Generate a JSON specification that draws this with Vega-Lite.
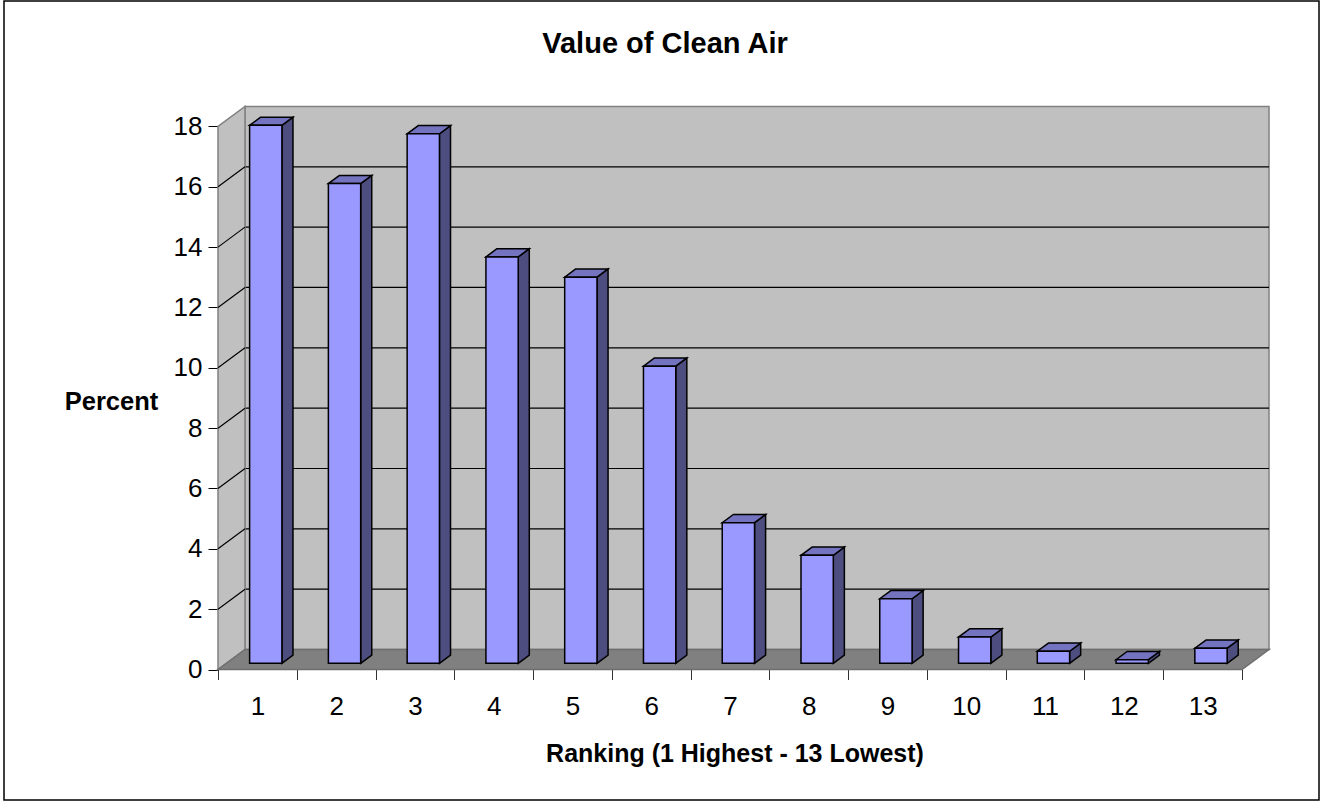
{
  "$schema": "https://vega.github.io/schema/vega-lite/v6.json",
  "width": 1315,
  "height": 799,
  "autosize": {"type": "none"},
  "padding": {"left": 4, "top": 1, "right": 2, "bottom": 1},
  "background": "white",
  "config": {
    "view": {"stroke": "black", "strokeWidth": 1.5, "fill": "white"},
    "font": "Liberation Sans"
  },
  "title": {
    "text": "Value of Clean Air",
    "font": "Liberation Sans",
    "fontSize": 29,
    "fontWeight": "bold",
    "color": "black",
    "anchor": "middle",
    "frame": "group",
    "baseline": "alphabetic",
    "offset": -81,
    "dx": 3.5
  },
  "datasets": {
    "bars": [
      {"rank": 1, "percent": 17.83},
      {"rank": 2, "percent": 15.9},
      {"rank": 3, "percent": 17.55},
      {"rank": 4, "percent": 13.47},
      {"rank": 5, "percent": 12.8},
      {"rank": 6, "percent": 9.85},
      {"rank": 7, "percent": 4.66},
      {"rank": 8, "percent": 3.58},
      {"rank": 9, "percent": 2.14},
      {"rank": 10, "percent": 0.87},
      {"rank": 11, "percent": 0.4},
      {"rank": 12, "percent": 0.12},
      {"rank": 13, "percent": 0.5}
    ],
    "ticks": [
      {"tick": 0}, {"tick": 2}, {"tick": 4}, {"tick": 6}, {"tick": 8},
      {"tick": 10}, {"tick": 12}, {"tick": 14}, {"tick": 16}, {"tick": 18}
    ]
  },
  "data": {"name": "bars"},
  "layer": [
    {
      "transform": [{"aggregate": [{"op": "count", "as": "n"}]}],
      "mark": {"type": "rect", "fill": "#c0c0c0", "stroke": "#808080", "strokeWidth": 1.5},
      "encoding": {
        "x": {
          "datum": 0.5,
          "type": "quantitative",
          "scale": {"domain": [-2.5596, 14.1346], "nice": false, "zero": false},
          "axis": {
            "title": "Ranking (1 Highest - 13 Lowest)",
            "orient": "bottom",
            "offset": -130.5,
            "values": [0.5, 1.5, 2.5, 3.5, 4.5, 5.5, 6.5, 7.5, 8.5, 9.5, 10.5, 11.5, 12.5, 13.5],
            "tickOffset": -27,
            "labelOffset": 39.385,
            "labelExpr": "datum.value < 13 ? format(datum.value + 0.5, 'd') : ''",
            "tickSize": 10,
            "tickColor": "#333333",
            "tickWidth": 1,
            "domain": false,
            "grid": false,
            "labelFont": "Liberation Sans",
            "labelFontSize": 26,
            "labelColor": "black",
            "labelPadding": 14,
            "labelOverlap": false,
            "labelFlush": false,
            "labelBound": false,
            "titleFont": "Liberation Sans",
            "titleFontSize": 25,
            "titleFontWeight": "bold",
            "titleColor": "black",
            "titleX": 730.5,
            "titleY": 91.5,
            "titleAlign": "center",
            "titleBaseline": "alphabetic"
          }
        },
        "x2": {"datum": 13.5},
        "y": {
          "datum": 0,
          "type": "quantitative",
          "scale": {"domain": [-4.988, 21.495], "nice": false, "zero": false},
          "axis": {
            "title": "Percent",
            "orient": "left",
            "offset": -214,
            "values": [0, 2, 4, 6, 8, 10, 12, 14, 16, 18],
            "tickOffset": 20,
            "tickSize": 10,
            "tickColor": "black",
            "tickWidth": 1,
            "domain": false,
            "grid": false,
            "labelFont": "Liberation Sans",
            "labelFontSize": 26,
            "labelColor": "black",
            "labelPadding": 6,
            "labelOverlap": false,
            "labelFlush": false,
            "labelBound": false,
            "titleFont": "Liberation Sans",
            "titleAngle": 0,
            "titleFontSize": 25.5,
            "titleFontWeight": "bold",
            "titleColor": "black",
            "titleX": -107,
            "titleY": 408,
            "titleAlign": "center",
            "titleBaseline": "alphabetic"
          }
        },
        "y2": {"datum": 18}
      }
    },
    {
      "data": {"name": "ticks"},
      "transform": [{"filter": "datum.tick > 0 && datum.tick < 18"}],
      "mark": {"type": "rule", "color": "black", "strokeWidth": 1.2},
      "encoding": {
        "x": {"datum": 0.5, "type": "quantitative", "scale": {"domain": [-2.5596, 14.1346], "nice": false, "zero": false}},
        "x2": {"datum": 13.5},
        "y": {"field": "tick", "type": "quantitative", "scale": {"domain": [-4.988, 21.495], "nice": false, "zero": false}}
      }
    },
    {
      "transform": [
        {"aggregate": [{"op": "count", "as": "n"}]},
        {"calculate": "[0, 1]", "as": "depth"},
        {"flatten": ["depth"]},
        {"calculate": "0.5 - 0.3428 * (1 - datum.depth)", "as": "wx"},
        {"calculate": "-0.6629 * (1 - datum.depth)", "as": "wy0"},
        {"calculate": "18 - 0.6629 * (1 - datum.depth)", "as": "wy1"}
      ],
      "mark": {"type": "area", "orient": "vertical", "fill": "#c0c0c0", "stroke": "#808080", "strokeWidth": 1.5},
      "encoding": {
        "x": {"field": "wx", "type": "quantitative", "scale": {"domain": [-2.5596, 14.1346], "nice": false, "zero": false}},
        "y": {"field": "wy0", "type": "quantitative", "stack": null, "scale": {"domain": [-4.988, 21.495], "nice": false, "zero": false}},
        "y2": {"field": "wy1"}
      }
    },
    {
      "data": {"name": "ticks"},
      "transform": [
        {"filter": "datum.tick > 0 && datum.tick < 18"},
        {"calculate": "datum.tick - 0.6629", "as": "front"}
      ],
      "mark": {"type": "rule", "color": "black", "strokeWidth": 1.2},
      "encoding": {
        "x": {"datum": 0.1572, "type": "quantitative", "scale": {"domain": [-2.5596, 14.1346], "nice": false, "zero": false}},
        "x2": {"datum": 0.5},
        "y": {"field": "front", "type": "quantitative", "scale": {"domain": [-4.988, 21.495], "nice": false, "zero": false}},
        "y2": {"field": "tick"}
      }
    },
    {
      "transform": [
        {"aggregate": [{"op": "count", "as": "n"}]},
        {"calculate": "[0, 1]", "as": "depth"},
        {"flatten": ["depth"]},
        {"calculate": "-0.6629 * (1 - datum.depth)", "as": "fy"},
        {"calculate": "0.5 - 0.3428 * (1 - datum.depth)", "as": "fx0"},
        {"calculate": "13.5 - 0.3428 * (1 - datum.depth)", "as": "fx1"}
      ],
      "mark": {"type": "area", "orient": "horizontal", "fill": "#808080", "stroke": "#6e6e6e", "strokeWidth": 1.5},
      "encoding": {
        "y": {"field": "fy", "type": "quantitative", "scale": {"domain": [-4.988, 21.495], "nice": false, "zero": false}},
        "x": {"field": "fx0", "type": "quantitative", "stack": null, "scale": {"domain": [-2.5596, 14.1346], "nice": false, "zero": false}},
        "x2": {"field": "fx1"}
      }
    },
    {
      "transform": [
        {"calculate": "[0, 1]", "as": "t"},
        {"flatten": ["t"]},
        {"calculate": "0.31 + 0.41 * datum.t", "as": "d"},
        {"calculate": "-0.3428 * (1 - datum.d)", "as": "sx"},
        {"calculate": "-0.6629 * (1 - datum.d)", "as": "sy"},
        {"calculate": "datum.rank + 0.205 + datum.sx", "as": "sideX"},
        {"calculate": "datum.rank - 0.205 + datum.sx", "as": "leftX"},
        {"calculate": "datum.sy", "as": "base"},
        {"calculate": "datum.percent + datum.sy", "as": "top"}
      ],
      "layer": [
        {
          "mark": {"type": "area", "orient": "vertical", "fill": "#4d4d80", "stroke": "black", "strokeWidth": 1.5, "strokeJoin": "miter"},
          "encoding": {
            "x": {"field": "sideX", "type": "quantitative", "scale": {"domain": [-2.5596, 14.1346], "nice": false, "zero": false}},
            "y": {"field": "base", "type": "quantitative", "stack": null, "scale": {"domain": [-4.988, 21.495], "nice": false, "zero": false}},
            "y2": {"field": "top"},
            "detail": {"field": "rank", "type": "nominal"}
          }
        },
        {
          "mark": {"type": "area", "orient": "horizontal", "fill": "#7373bf", "stroke": "black", "strokeWidth": 1.5, "strokeJoin": "miter"},
          "encoding": {
            "y": {"field": "top", "type": "quantitative", "scale": {"domain": [-4.988, 21.495], "nice": false, "zero": false}},
            "x": {"field": "leftX", "type": "quantitative", "stack": null, "scale": {"domain": [-2.5596, 14.1346], "nice": false, "zero": false}},
            "x2": {"field": "sideX"},
            "detail": {"field": "rank", "type": "nominal"}
          }
        },
        {
          "transform": [{"filter": "datum.t == 0"}],
          "mark": {"type": "rect", "fill": "#9999ff", "stroke": "black", "strokeWidth": 1.5, "strokeJoin": "miter"},
          "encoding": {
            "x": {"field": "leftX", "type": "quantitative", "scale": {"domain": [-2.5596, 14.1346], "nice": false, "zero": false}},
            "x2": {"field": "sideX"},
            "y": {"field": "base", "type": "quantitative", "scale": {"domain": [-4.988, 21.495], "nice": false, "zero": false}},
            "y2": {"field": "top"}
          }
        }
      ]
    }
  ]
}
